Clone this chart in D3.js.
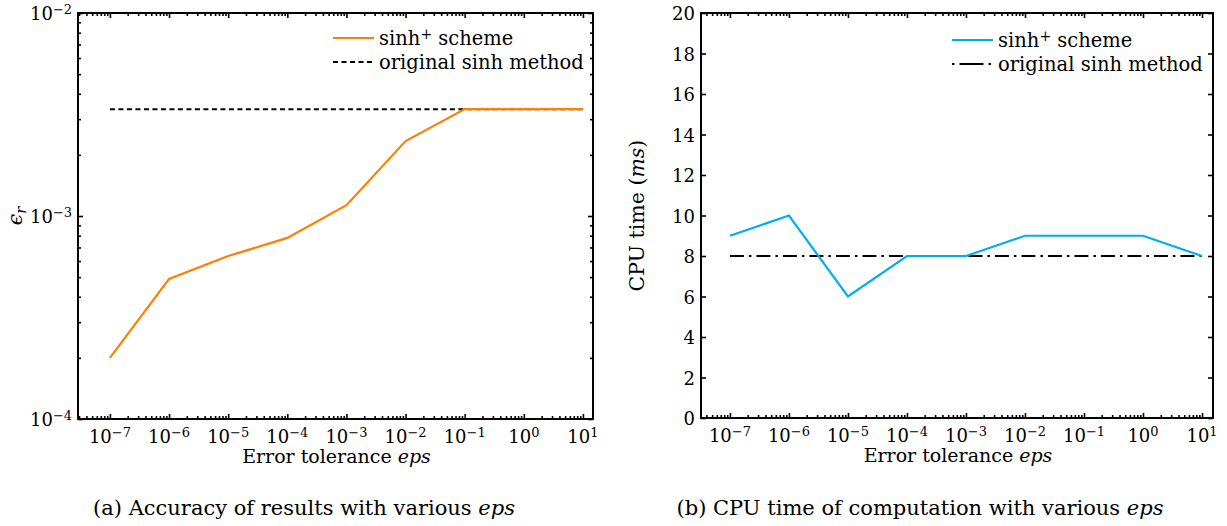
<!DOCTYPE html>
<html>
<head>
<meta charset="utf-8">
<script src="https://cdn.jsdelivr.net/npm/d3@7"></script>
<style>
  body { margin: 0; background: #fff; }
  svg text { font-family: "DejaVu Serif", serif; fill: #000; }
</style>
</head>
<body>
<div id="vis"></div>
<script>
const width = 1227;
const height = 526;

// error tolerance values (x axis of both panels)
const epsValues = [1e-7, 1e-6, 1e-5, 1e-4, 1e-3, 1e-2, 1e-1, 1e0, 1e1];
const xTickExp = [-7, -6, -5, -4, -3, -2, -1, 0, 1];

// panel (a): relative error
const errSinhPlus = [2.0e-4, 4.9e-4, 6.35e-4, 7.8e-4, 1.13e-3, 2.34e-3, 3.36e-3, 3.36e-3, 3.36e-3];
const errOriginal = [3.36e-3, 3.36e-3, 3.36e-3, 3.36e-3, 3.36e-3, 3.36e-3, 3.36e-3, 3.36e-3, 3.36e-3];
const errTickExp = [-4, -3, -2];

// panel (b): CPU time in ms
const cpuSinhPlus = [9, 10, 6, 8, 8, 9, 9, 9, 8];
const cpuOriginal = [8, 8, 8, 8, 8, 8, 8, 8, 8];
const cpuTicks = [0, 2, 4, 6, 8, 10, 12, 14, 16, 18, 20];

const legendNames = ['scheme', 'original sinh method'];

let vis = d3.select('#vis')
            .append('svg')
            .attr('width', width)
            .attr('height', height);

// writes 10^exp into a text selection
function powerLabel(sel, exp) {
    sel.text(null);
    sel.append('tspan').text('10');
    sel.append('tspan')
       .attr('dy', '-0.48em')
       .attr('font-size', '0.72em')
       .text(exp < 0 ? '\u2212' + (-exp) : exp);
}

// minor ticks for log axes, 2..9 times each decade, inside the domain
function minorTicks(domain) {
    const out = [];
    for (let d = Math.floor(Math.log10(domain[0])) - 1; d <= Math.ceil(Math.log10(domain[1])); d++) {
        for (let k = 2; k <= 9; k++) {
            const v = k * Math.pow(10, d);
            if (v > domain[0] && v < domain[1]) out.push(v);
        }
    }
    return out;
}

function drawPanel(opt) {
    const g = vis.append('g');
    const x = d3.scaleLog().domain(opt.xDomain).range(opt.xRange);
    const y = opt.y;
    const [x0, x1] = opt.xRange;
    const [y0, y1] = y.range();

    const xMajor = xTickExp.map(e => Math.pow(10, e));
    const xMinor = minorTicks(opt.xDomain);

    // ticks (pointing inside, on all four sides)
    const tickAxes = [
        [d3.axisBottom(x).tickValues(xMajor).tickSize(-5), `translate(0,${y0})`],
        [d3.axisTop(x).tickValues(xMajor).tickSize(-5), `translate(0,${y1})`],
        [d3.axisBottom(x).tickValues(xMinor).tickSize(-3), `translate(0,${y0})`],
        [d3.axisTop(x).tickValues(xMinor).tickSize(-3), `translate(0,${y1})`],
        [d3.axisLeft(y).tickValues(opt.yMajor).tickSize(-5), `translate(${x0},0)`],
        [d3.axisRight(y).tickValues(opt.yMajor).tickSize(-5), `translate(${x1},0)`]
    ];
    if (opt.yMinor) {
        tickAxes.push([d3.axisLeft(y).tickValues(opt.yMinor).tickSize(-3), `translate(${x0},0)`]);
        tickAxes.push([d3.axisRight(y).tickValues(opt.yMinor).tickSize(-3), `translate(${x1},0)`]);
    }
    tickAxes.forEach(([ax, tr]) => {
        const a = g.append('g')
                   .attr('transform', tr)
                   .call(ax.tickFormat('').tickSizeOuter(0));
        a.select('.domain').remove();
        a.selectAll('line').attr('stroke', '#000').attr('stroke-width', 1.6);
        a.selectAll('text').remove();
    });

    // x tick labels
    g.selectAll('.xlab')
     .data(xTickExp)
     .enter()
     .append('text')
     .attr('class', 'xlab')
     .attr('x', d => x(Math.pow(10, d)))
     .attr('y', y0 + 24)
     .attr('text-anchor', 'middle')
     .attr('font-size', 18)
     .each(function(d) { powerLabel(d3.select(this), d); });

    // y tick labels
    const yl = g.selectAll('.ylab')
                .data(opt.yMajor)
                .enter()
                .append('text')
                .attr('class', 'ylab')
                .attr('x', x0 - 6)
                .attr('y', d => y(d) + 7)
                .attr('text-anchor', 'end')
                .attr('font-size', 18);
    if (opt.yLog) {
        yl.each(function(d) { powerLabel(d3.select(this), Math.round(Math.log10(d))); });
    } else {
        yl.text(d => d);
    }

    // data lines
    const line = d3.line()
                   .x((d, i) => x(epsValues[i]))
                   .y(d => y(d));

    g.append('path')
     .datum(opt.original)
     .attr('fill', 'none')
     .attr('stroke', '#000')
     .attr('stroke-width', 2)
     .attr('stroke-dasharray', opt.dash)
     .attr('d', line);

    g.append('path')
     .datum(opt.plus)
     .attr('fill', 'none')
     .attr('stroke', opt.color)
     .attr('stroke-width', 2.2)
     .attr('d', line);

    // frame
    g.append('rect')
     .attr('x', x0)
     .attr('y', y1)
     .attr('width', x1 - x0)
     .attr('height', y0 - y1)
     .attr('fill', 'none')
     .attr('stroke', '#000')
     .attr('stroke-width', 2);

    // legend
    const lg = g.append('g').attr('transform', `translate(${opt.legend[0]},${opt.legend[1]})`);
    lg.append('line').attr('x1', 0).attr('x2', 41).attr('y1', 0).attr('y2', 0)
      .attr('stroke', opt.color).attr('stroke-width', 2.2);
    lg.append('line').attr('x1', 0).attr('x2', 41).attr('y1', 24).attr('y2', 24)
      .attr('stroke', '#000').attr('stroke-width', 2).attr('stroke-dasharray', opt.legendDash);
    const t1 = lg.append('text').attr('x', 46).attr('y', 7).attr('font-size', 19.5);
    t1.append('tspan').text('sinh');
    t1.append('tspan').attr('dy', '-0.45em').attr('font-size', '0.72em').text('+');
    t1.append('tspan').attr('dy', '0.32em').text(' ' + legendNames[0]);
    lg.append('text').attr('x', 46).attr('y', 31).attr('font-size', 19.5).text(legendNames[1]);

    // x axis title
    const xt = g.append('text')
                .attr('x', (x0 + x1) / 2 + 1)
                .attr('y', y0 + 44)
                .attr('text-anchor', 'middle')
                .attr('font-size', 19);
    xt.append('tspan').text('Error tolerance ');
    xt.append('tspan').attr('font-style', 'italic').text('eps');

    // y axis title
    const yt = g.append('text')
                .attr('transform', `translate(${opt.yTitleX},${(y0 + y1) / 2}) rotate(-90)`)
                .attr('text-anchor', 'middle')
                .attr('font-size', 20.5);
    opt.yTitle(yt);

    // caption
    const cap = g.append('text')
                 .attr('x', opt.captionX)
                 .attr('y', 515)
                 .attr('text-anchor', 'middle')
                 .attr('font-size', 21);
    cap.append('tspan').text(opt.caption);
    cap.append('tspan').attr('font-style', 'italic').text('eps');
}

// panel (a)
const yErr = d3.scaleLog().domain([1e-4, 1e-2]).range([419, 13]);
drawPanel({
    xDomain: [Math.pow(10, -7.54), Math.pow(10, 1.17)],
    xRange: [78, 593],
    y: yErr,
    yLog: true,
    yMajor: errTickExp.map(e => Math.pow(10, e)),
    yMinor: minorTicks([1e-4, 1e-2]),
    plus: errSinhPlus,
    original: errOriginal,
    color: '#ff8000',
    dash: '5,3.5',
    legendDash: '5,3.5',
    legend: [333, 38],
    yTitleX: 22,
    yTitle: t => {
        t.append('tspan').attr('font-style', 'italic').text('\u03f5');
        t.append('tspan').attr('font-style', 'italic').attr('font-size', '0.72em').attr('dy', '0.3em').text('r');
    },
    caption: '(a) Accuracy of results with various ',
    captionX: 304
});

// panel (b)
const yCpu = d3.scaleLinear().domain([0, 20]).range([418, 13]);
drawPanel({
    xDomain: [Math.pow(10, -7.49), Math.pow(10, 1.186)],
    xRange: [701, 1213],
    y: yCpu,
    yLog: false,
    yMajor: cpuTicks,
    yMinor: null,
    plus: cpuSinhPlus,
    original: cpuOriginal,
    color: '#00aeef',
    dash: '14,5,2.5,5',
    legendDash: '2.5,5,24,5,2.5',
    legend: [952, 40],
    yTitleX: 644,
    yTitle: t => {
        t.append('tspan').text('CPU time (');
        t.append('tspan').attr('font-style', 'italic').text('ms');
        t.append('tspan').text(')');
    },
    caption: '(b) CPU time of computation with various ',
    captionX: 920
});
</script>
</body>
</html>
